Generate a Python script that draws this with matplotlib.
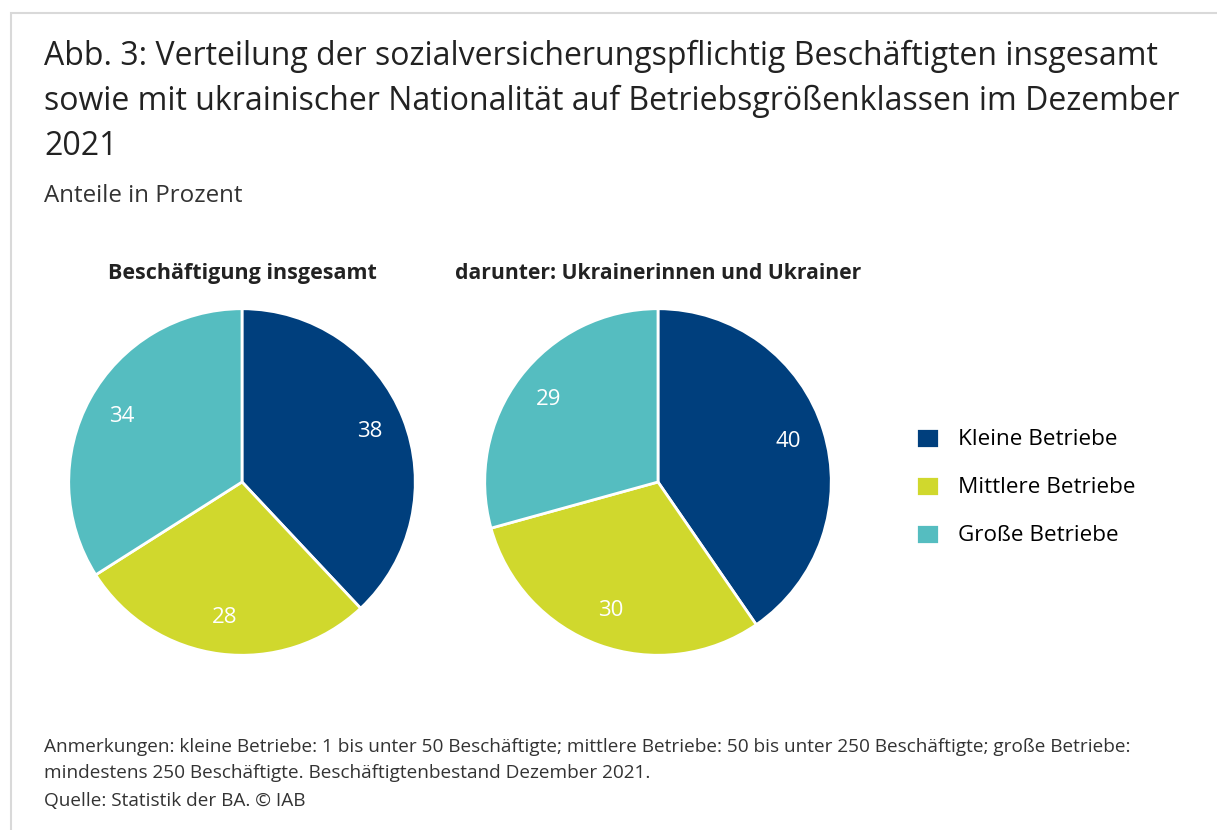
import matplotlib.pyplot as plt
from matplotlib.patches import Rectangle

# Data
categories = ["Kleine Betriebe", "Mittlere Betriebe", "Große Betriebe"]
colors = ["#003f7d", "#d0d82d", "#55bdc0"]
values_total = [38, 28, 34]
values_ukr = [40, 30, 29]
pie_titles = ["Beschäftigung insgesamt", "darunter: Ukrainerinnen und Ukrainer"]
title_lines = [
    "Abb. 3: Verteilung der sozialversicherungspflichtig Beschäftigten insgesamt",
    "sowie mit ukrainischer Nationalität auf Betriebsgrößenklassen im Dezember",
    "2021",
]
note_lines = [
    "Anmerkungen: kleine Betriebe: 1 bis unter 50 Beschäftigte; mittlere Betriebe: "
    "50 bis unter 250 Beschäftigte; große Betriebe:",
    "mindestens 250 Beschäftigte. Beschäftigtenbestand Dezember 2021.",
    "Quelle: Statistik der BA. © IAB",
]

W, H = 1217, 830
FONT = "Open Sans"

fig = plt.figure(figsize=(W / 100, H / 100), dpi=100)
fig.patch.set_facecolor("white")


def px(x, y):
    # pixel coords (from top-left) -> figure fraction
    return x / W, 1 - y / H


# light gray frame
fig.add_artist(Rectangle((11 / W, -0.05), 1.1, 1 - 13 / H + 0.05,
                         transform=fig.transFigure, fill=False,
                         edgecolor="#d9d9d9", lw=1.5))

for line, y in zip(title_lines, [65, 110, 155]):
    fig.text(*px(44, y), line, fontsize=23, family=FONT, color="#222222",
             va="baseline", ha="left")
fig.text(*px(44, 202), "Anteile in Prozent", fontsize=17.4, family=FONT,
         color="#333333", va="baseline", ha="left")


def draw_pie(cx, cy, r, values, subtitle, tsize):
    ax = fig.add_axes([(cx - r) / W, 1 - (cy + r) / H, 2 * r / W, 2 * r / H])
    total = sum(values)
    wedges, _, autotexts = ax.pie(
        values, colors=colors, startangle=90, counterclock=False,
        wedgeprops=dict(edgecolor="white", linewidth=2),
        autopct=lambda p: f"{p * total / 100:.0f}", pctdistance=0.79,
        textprops=dict(color="white", fontsize=16, family=FONT))
    ax.set_xlim(-1.01, 1.01)
    ax.set_ylim(-1.01, 1.01)
    ax.set_aspect("equal")
    ax.axis("off")
    fig.text(*px(cx, 279), subtitle, fontsize=tsize, fontweight="bold",
             family=FONT, color="#222222", ha="center", va="baseline")
    return wedges


wedges = draw_pie(242, 482, 175, values_total, pie_titles[0], 15.5)
draw_pie(658, 482, 175, values_ukr, pie_titles[1], 15.2)

fig.legend(wedges, categories, loc="center left",
           bbox_to_anchor=px(896, 487), frameon=False,
           prop=dict(family=FONT, size=16.2), handlelength=1.0,
           handleheight=1.0, handletextpad=0.85, labelspacing=1.12)

for line, y in zip(note_lines, [752, 778, 806]):
    fig.text(*px(44, y), line, fontsize=13.7, family=FONT, color="#333333",
             va="baseline", ha="left")

fig.savefig("out.png", dpi=100)
